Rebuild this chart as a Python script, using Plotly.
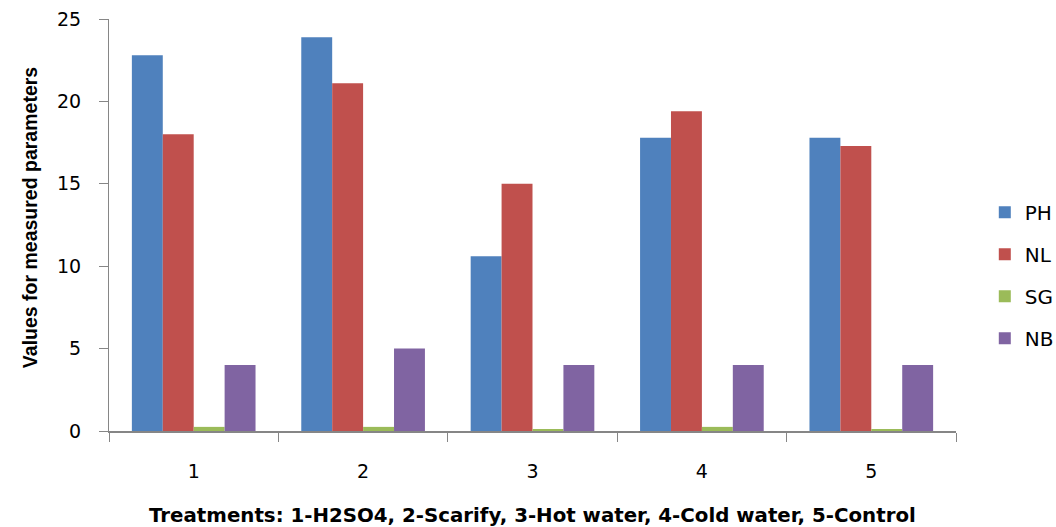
import plotly.graph_objects as go

categories = ["1", "2", "3", "4", "5"]
PH = [22.8, 23.9, 10.6, 17.8, 17.8]
NL = [18.0, 21.1, 15.0, 19.4, 17.3]
SG = [0.25, 0.25, 0.12, 0.25, 0.12]
NB = [4, 5, 4, 4, 4]
y_ticks = [0, 5, 10, 15, 20, 25]

series = [("PH", PH, "#4F81BD"), ("NL", NL, "#C0504D"),
          ("SG", SG, "#9BBB59"), ("NB", NB, "#8064A2")]

fig = go.Figure()
for name, vals, col in series:
    fig.add_trace(go.Bar(x=categories, y=vals, name=name, marker_color=col,
                         marker_line_width=0, legendgroup=name))

axis_col = "#868686"
fig.update_layout(
    width=1056, height=527,
    margin=dict(l=109, r=100, t=19, b=96, autoexpand=False),
    paper_bgcolor="white", plot_bgcolor="white",
    barmode="group", bargap=0.27, bargroupgap=0,
    font=dict(family="DejaVu Sans", color="#000000"),
    legend=dict(x=1.034, y=0.378, xanchor="left", yanchor="middle",
                font=dict(size=20, family="DejaVu Sans"),
                traceorder="grouped", tracegroupgap=13,
                itemwidth=30),
    xaxis=dict(
        type="category", tickson="boundaries", ticks="outside", ticklen=9,
        tickcolor=axis_col, showline=True, linecolor=axis_col, linewidth=1.5,
        showgrid=False, tickfont=dict(size=19), ticklabelstandoff=22,
        automargin=False,
    ),
    yaxis=dict(
        range=[0, 25], tickvals=y_ticks, ticks="outside", ticklen=9,
        tickcolor=axis_col, showline=True, linecolor=axis_col, linewidth=1,
        showgrid=False, zeroline=False, tickfont=dict(size=19),
        ticklabelstandoff=14, automargin=False, ticklabeloverflow="allow",
    ),
    annotations=[
        dict(text="<b>Treatments: 1-H2SO4, 2-Scarify, 3-Hot water, 4-Cold water, 5-Control</b>",
             xref="paper", yref="paper", x=0.5, y=-0.204,
             xanchor="center", yanchor="middle", showarrow=False,
             font=dict(size=19.8, family="DejaVu Sans")),
        dict(text="<b>Values for measured parameters</b>",
             xref="paper", yref="paper", x=-0.0933, y=0.519, textangle=-90,
             xanchor="center", yanchor="middle", showarrow=False,
             font=dict(size=19.5, family="Liberation Sans")),
    ],
)

fig.write_html("out.html", config={"displayModeBar": False},
               post_script="document.body.style.margin='0';document.body.style.overflow='hidden';")
